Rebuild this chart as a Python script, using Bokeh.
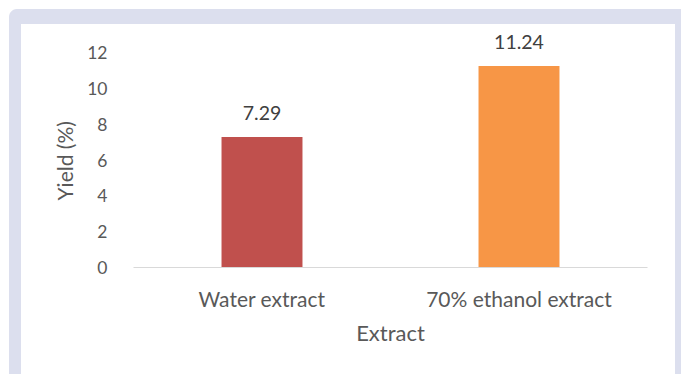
from bokeh.plotting import figure
from bokeh.models import (ColumnDataSource, FactorRange, Range1d, FixedTicker,
                          LabelSet, Title)
from bokeh.core.properties import value
from bokeh.embed import file_html
from bokeh.resources import INLINE

# Extraction yield by solvent
categories = ["Water extract", "70% ethanol extract"]
yields = [7.29, 11.24]
bar_colors = ["#C0504D", "#F79646"]
y_ticks = [0, 2, 4, 6, 8, 10, 12]

FONT = "Lato"
TEXT = "#595959"
PANEL = "#DCDFEE"

source = ColumnDataSource(dict(
    cat=categories,
    val=yields,
    color=bar_colors,
    label=[f"{v:.2f}" for v in yields],
))

# Light panel frame drawn behind a transparent canvas
panel_bg = ", ".join([
    "linear-gradient(#ffffff,#ffffff) 21px 24px / 654px 400px no-repeat",
    f"radial-gradient(circle at 8px 8px, {PANEL} 7.5px, rgba(220,223,238,0) 8.5px) 9px 9px / 16px 16px no-repeat",
    f"linear-gradient({PANEL},{PANEL}) 17px 9px / 700px 400px no-repeat",
    f"linear-gradient({PANEL},{PANEL}) 9px 17px / 700px 400px no-repeat",
    "#ffffff",
])

# Headroom above 12 keeps the value labels inside the frame
p = figure(width=681, height=374,
           x_range=FactorRange(*categories),
           y_range=Range1d(0, 13.34),
           output_backend="svg", toolbar_location=None,
           min_border_left=133, min_border_right=34,
           min_border_top=28, min_border_bottom=107,
           styles={"background": panel_bg})

p.background_fill_color = None
p.border_fill_color = None
p.outline_line_color = None
p.xgrid.grid_line_color = None
p.ygrid.grid_line_color = None

p.vbar(x="cat", top="val", width=0.315, color="color", line_color=None,
       source=source)

labels = LabelSet(x="cat", y="val", text="label", source=source,
                  text_align="center", text_baseline="alphabetic", y_offset=17,
                  text_font=value(FONT), text_font_size="19.5px",
                  text_color="#404040")
p.add_layout(labels)

# Y axis
p.yaxis.ticker = FixedTicker(ticks=y_ticks)
p.yaxis.axis_line_color = None
p.yaxis.major_tick_line_color = None
p.yaxis.minor_tick_line_color = None
p.yaxis.major_label_standoff = 20
p.yaxis.major_label_text_font = FONT
p.yaxis.major_label_text_font_size = "17.5px"
p.yaxis.major_label_text_color = TEXT

# Y axis title, centred on the 0-12 span rather than the whole frame
p.add_layout(Title(text="Yield (%)", align="left", offset=67,
                   vertical_align="bottom", standoff=16,
                   text_font=FONT, text_font_style="normal",
                   text_font_size="21px", text_color=TEXT), "left")

# X axis
p.xaxis.axis_line_color = "#D9D9D9"
p.xaxis.axis_line_width = 1
p.xaxis.major_tick_line_color = None
p.xaxis.minor_tick_line_color = None
p.xaxis.major_label_standoff = 12
p.xaxis.major_label_text_font = FONT
p.xaxis.major_label_text_font_size = "21px"
p.xaxis.major_label_text_color = TEXT
p.xaxis.axis_label = "Extract"
p.xaxis.axis_label_text_font = FONT
p.xaxis.axis_label_text_font_style = "normal"
p.xaxis.axis_label_text_font_size = "22px"
p.xaxis.axis_label_text_color = TEXT
p.xaxis.axis_label_standoff = 5

open("out.html", "w").write(file_html(p, INLINE))
